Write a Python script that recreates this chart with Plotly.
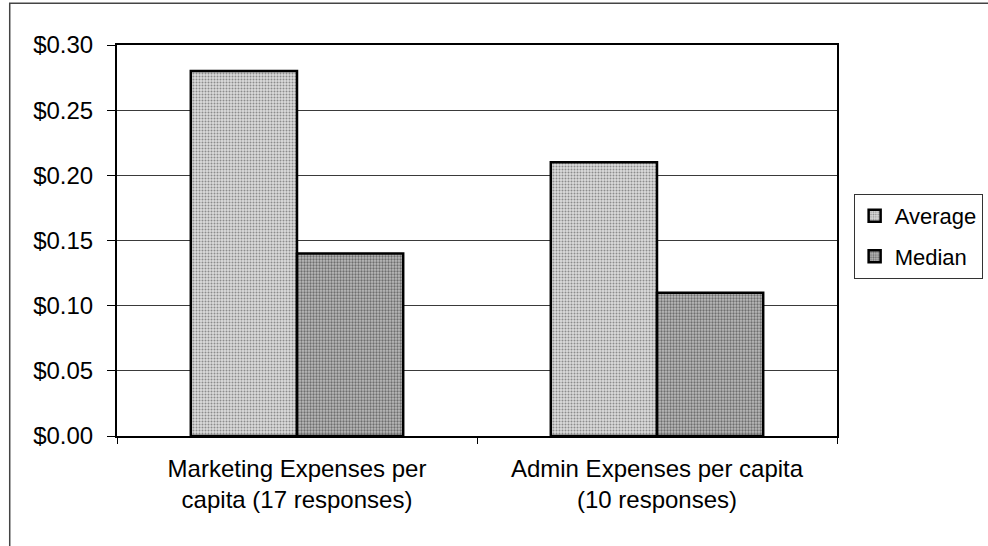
import plotly.graph_objects as go

# Per-capita expense survey results
categories = ["Marketing Expenses per<br>capita (17 responses)",
              "Admin Expenses per capita<br>(10 responses)"]
average_vals = [0.28, 0.21]
median_vals = [0.14, 0.11]
y_ticks = [0.00, 0.05, 0.10, 0.15, 0.20, 0.25, 0.30]

FONT = "Liberation Sans, Arial, sans-serif"

fig = go.Figure()
fig.add_trace(go.Bar(
    name="Average", x=categories, y=average_vals, legendgroup="a",
    marker=dict(color="#d4d4d4", line=dict(color="black", width=2.5),
                pattern=dict(shape=".", size=3, solidity=0.35,
                             fgcolor="#8c8c8c", bgcolor="#dcdcdc", fillmode="replace")),
))
fig.add_trace(go.Bar(
    name="Median", x=categories, y=median_vals, legendgroup="m",
    marker=dict(color="#ababab", line=dict(color="black", width=2.5),
                pattern=dict(shape=".", size=3, solidity=0.45,
                             fgcolor="#6e6e6e", bgcolor="#bcbcbc", fillmode="replace")),
))

fig.update_layout(
    width=988, height=546,
    margin=dict(l=117, r=151, t=45, b=110, autoexpand=False),
    paper_bgcolor="white", plot_bgcolor="white",
    font=dict(family=FONT, size=24, color="black"),
    barmode="group", bargap=0.41, bargroupgap=0,
    showlegend=True,
    legend=dict(xref="container", yref="container",
                x=0.864, xanchor="left", y=0.567, yanchor="middle",
                bordercolor="#333333", borderwidth=1, bgcolor="white",
                font=dict(family=FONT, size=22), tracegroupgap=9,
                traceorder="grouped", itemwidth=30),
    xaxis=dict(showgrid=False, showline=True, linecolor="black", linewidth=2,
               mirror=True, ticks="outside", ticklen=6, tickcolor="black",
               tickson="boundaries", tickfont=dict(size=24), ticklabelstandoff=10),
    yaxis=dict(range=[0, 0.30], tickvals=y_ticks, tickformat="$.2f",
               showgrid=True, gridcolor="#3a3a3a", gridwidth=1,
               showline=True, linecolor="black", linewidth=2, mirror=True,
               ticks="outside", ticklen=8, tickcolor="black",
               tickfont=dict(size=24), zeroline=False, ticklabelstandoff=9),
    shapes=[dict(type="rect", xref="paper", yref="paper",
                 x0=-0.149, x1=1.4, y0=-0.35, y1=1.107,
                 line=dict(color="#444444", width=1.5), layer="below")],
)

fig.write_html("out.html")
